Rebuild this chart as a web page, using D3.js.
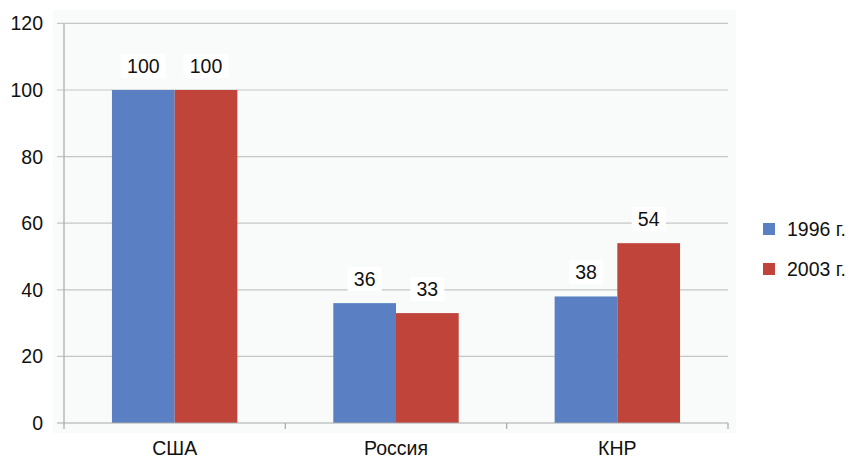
<!DOCTYPE html>
<html>
<head>
<meta charset="utf-8">
<script src="https://cdn.jsdelivr.net/npm/d3@7"></script>
<style>
  html, body { margin: 0; padding: 0; background: #ffffff; }
  svg { display: block; font-family: "Liberation Sans", Arial, Helvetica, sans-serif; }
</style>
</head>
<body>
<svg id="chart" width="856" height="460"></svg>
<script>
const categories = ["США", "Россия", "КНР"];
const seriesNames = ["1996 г.", "2003 г."];
const values1996 = [100, 36, 38];
const values2003 = [100, 33, 54];
const yTicks = [0, 20, 40, 60, 80, 100, 120];
const colors = ["#5a80c3", "#c0443a"];

const series = [values1996, values2003];
const svg = d3.select("#chart");
const margin = { left: 64, right: 728, top: 23.4, bottom: 423 };

// light plot-area background
svg.append("rect")
  .attr("x", 53).attr("y", 10)
  .attr("width", 683).attr("height", 423)
  .attr("fill", "#f9fafa");

const x = d3.scaleBand().domain(categories).range([margin.left, margin.right]).paddingInner(0).paddingOuter(0);
const x1 = d3.scaleBand().domain(d3.range(series.length)).range([0, x.bandwidth()]).paddingOuter(0.765).paddingInner(0);
const y = d3.scaleLinear().domain([0, 120]).range([margin.bottom, margin.top]);

// horizontal gridlines (extend left as tick marks)
svg.append("g").selectAll("line").data(yTicks.filter(t => t > 0)).join("line")
  .attr("x1", 57).attr("x2", margin.right)
  .attr("y1", d => y(d)).attr("y2", d => y(d))
  .attr("stroke", "#c6c6c6").attr("stroke-width", 1.2);

// y axis tick labels
svg.append("g").selectAll("text").data(yTicks).join("text")
  .attr("x", 43).attr("y", d => y(d) + 7)
  .attr("text-anchor", "end")
  .attr("font-size", 19.5).attr("fill", "#111")
  .text(d => d);

// bars
const groups = svg.append("g").selectAll("g").data(categories).join("g")
  .attr("transform", c => `translate(${x(c)},0)`);
groups.selectAll("rect").data((c, i) => series.map((s, k) => ({ k, v: s[i] }))).join("rect")
  .attr("x", d => x1(d.k)).attr("width", x1.bandwidth())
  .attr("y", d => y(d.v)).attr("height", d => y(0) - y(d.v))
  .attr("fill", d => colors[d.k]);

// data labels with white boxes
const lab = groups.selectAll("g.lab").data((c, i) => series.map((s, k) => ({ k, v: s[i] }))).join("g")
  .attr("class", "lab")
  .attr("transform", d => `translate(${x1(d.k) + x1.bandwidth() / 2},${y(d.v) - 17})`);
lab.append("rect")
  .attr("x", d => -(String(d.v).length * 11 + 12) / 2)
  .attr("y", -19).attr("width", d => String(d.v).length * 11 + 12).attr("height", 24)
  .attr("fill", "#ffffff");
lab.append("text")
  .attr("text-anchor", "middle")
  .attr("font-size", 19.5).attr("fill", "#111")
  .text(d => d.v);

// axes lines
svg.append("line").attr("x1", 57).attr("x2", margin.right)
  .attr("y1", y(0)).attr("y2", y(0)).attr("stroke", "#a8a8a8").attr("stroke-width", 1.2);
svg.append("line").attr("x1", margin.left).attr("x2", margin.left)
  .attr("y1", y(120)).attr("y2", y(0) + 6).attr("stroke", "#a8a8a8").attr("stroke-width", 1.2);
// category boundary ticks
svg.append("g").selectAll("line").data(categories.slice(1).concat(["end"])).join("line")
  .attr("x1", (d, i) => margin.left + (i + 1) * x.bandwidth())
  .attr("x2", (d, i) => margin.left + (i + 1) * x.bandwidth())
  .attr("y1", y(0)).attr("y2", y(0) + 6)
  .attr("stroke", "#a8a8a8").attr("stroke-width", 1.2);

// category labels
svg.append("g").selectAll("text").data(categories).join("text")
  .attr("x", c => x(c) + x.bandwidth() / 2).attr("y", 455)
  .attr("text-anchor", "middle")
  .attr("font-size", 19.5).attr("fill", "#111")
  .text(c => c);

// legend
const legend = svg.append("g").selectAll("g").data(seriesNames).join("g")
  .attr("transform", (d, i) => `translate(763,${223 + i * 40})`);
legend.append("rect").attr("width", 12).attr("height", 12).attr("fill", (d, i) => colors[i]);
legend.append("text").attr("x", 24).attr("y", 13)
  .attr("font-size", 19.5).attr("fill", "#111")
  .text(d => d);
</script>
</body>
</html>
